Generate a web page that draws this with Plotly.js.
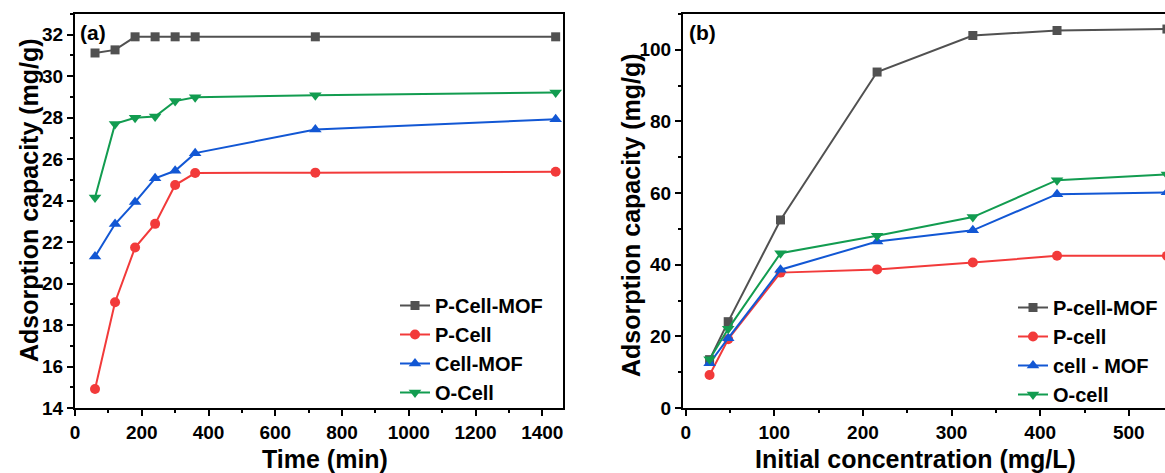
<!DOCTYPE html>
<html>
<head>
<meta charset="utf-8">
<script src="https://cdn.plot.ly/plotly-3.0.1.min.js"></script>
<style>
html, body { margin: 0; padding: 0; overflow: hidden; background: #fff; }
#chart { width: 1185px; height: 473px; }
</style>
</head>
<body>
<div id="chart"></div>
<script>
// Panel (a): adsorption kinetics
const timeMin = [60, 120, 180, 240, 300, 360, 720, 1440];
const aPCellMOF = [31.12, 31.27, 31.9, 31.9, 31.9, 31.9, 31.9, 31.9];
const aPCell = [14.92, 19.1, 21.74, 22.88, 24.75, 25.33, 25.35, 25.39];
const aCellMOF = [21.3, 22.87, 23.93, 25.08, 25.44, 26.29, 27.43, 27.92];
const aOCell = [24.15, 27.7, 28.0, 28.06, 28.8, 28.99, 29.08, 29.22];
const namesA = ['P-Cell-MOF', 'P-Cell', 'Cell-MOF', 'O-Cell'];

// Panel (b): effect of initial concentration
const concMgL = [27, 48, 107, 216, 324, 419, 543];
const bPCellMOF = [13.5, 24.1, 52.5, 93.8, 104.0, 105.4, 105.8];
const bPCell = [9.2, 19.2, 37.8, 38.7, 40.6, 42.5, 42.5];
const bCellMOF = [12.5, 19.5, 38.6, 46.5, 49.6, 59.7, 60.2];
const bOCell = [13.6, 22.1, 43.2, 48.1, 53.3, 63.6, 65.2];
const namesB = ['P-cell-MOF', 'P-cell', 'cell - MOF', 'O-cell'];

const colors = ['#515151', '#F23A3A', '#1257D4', '#129C50'];
const symbols = ['square', 'circle', 'triangle-up', 'triangle-down'];
const msizes = [9, 10, 11, 11];

const W = 1185, H = 473;
const px = v => v / W;

const seriesA = [aPCellMOF, aPCell, aCellMOF, aOCell];
const seriesB = [bPCellMOF, bPCell, bCellMOF, bOCell];

const traces = [];
seriesA.forEach((ys, i) => {
  traces.push({
    x: timeMin, y: ys, name: namesA[i], type: 'scatter', mode: 'lines+markers',
    xaxis: 'x', yaxis: 'y', legend: 'legend',
    line: {color: colors[i], width: 2},
    marker: {color: colors[i], symbol: symbols[i], size: msizes[i]}
  });
});
seriesB.forEach((ys, i) => {
  traces.push({
    x: concMgL, y: ys, name: namesB[i], type: 'scatter', mode: 'lines+markers',
    xaxis: 'x2', yaxis: 'y2', legend: 'legend2',
    line: {color: colors[i], width: 2},
    marker: {color: colors[i], symbol: symbols[i], size: msizes[i]}
  });
});

const FAM = 'Liberation Sans, Arial, sans-serif';
const tickFont = {family: FAM, size: 19, color: '#000', weight: 'bold'};
const axisBase = {
  showline: true, linewidth: 2, linecolor: '#000', mirror: true,
  showgrid: false, zeroline: false,
  ticks: 'outside', ticklen: 6, tickwidth: 2, tickcolor: '#000',
  tickfont: tickFont,
  minor: {ticks: 'outside', ticklen: 3, tickwidth: 2, tickcolor: '#000'}
};
const legFont = {family: FAM, size: 20, color: '#000', weight: 'bold'};
const titleFont = {family: FAM, size: 25, color: '#000', weight: 'bold'};

const layout = {
  width: W, height: H,
  margin: {l: 0, r: 0, t: 14, b: 65},
  paper_bgcolor: '#fff', plot_bgcolor: '#fff',
  xaxis: Object.assign({}, axisBase, {domain: [px(75), px(563)], range: [0, 1462], dtick: 200, tick0: 0, minor: Object.assign({}, axisBase.minor, {dtick: 100})}),
  yaxis: Object.assign({}, axisBase, {domain: [0, 1], range: [14, 33], dtick: 2, tick0: 0, minor: Object.assign({}, axisBase.minor, {dtick: 1})}),
  xaxis2: Object.assign({}, axisBase, {anchor: 'y2', domain: [px(683), px(1182)], range: [-3, 560], dtick: 100, tick0: 0, minor: Object.assign({}, axisBase.minor, {dtick: 50})}),
  yaxis2: Object.assign({}, axisBase, {anchor: 'x2', domain: [0, 1], range: [0, 110], dtick: 20, tick0: 0, minor: Object.assign({}, axisBase.minor, {dtick: 10})}),
  legend: {x: px(395), y: 1 - (286 - 14) / 394, xanchor: 'left', yanchor: 'top', font: legFont, bgcolor: 'rgba(0,0,0,0)', tracegroupgap: 0},
  legend2: {x: px(1013), y: 1 - (288 - 14) / 394, xanchor: 'left', yanchor: 'top', font: legFont, bgcolor: 'rgba(0,0,0,0)', tracegroupgap: 0},
  annotations: [
    {text: '(a)', xref: 'paper', yref: 'paper', x: px(78), y: 1 - (33 - 14) / 394, xanchor: 'left', yanchor: 'middle', showarrow: false, font: {family: FAM, size: 21, color: '#000', weight: 'bold'}},
    {text: '(b)', xref: 'paper', yref: 'paper', x: px(687), y: 1 - (33 - 14) / 394, xanchor: 'left', yanchor: 'middle', showarrow: false, font: {family: FAM, size: 21, color: '#000', weight: 'bold'}},
    {text: 'Time (min)', xref: 'paper', yref: 'paper', x: px(325), y: -(459 - 408) / 394, xanchor: 'center', yanchor: 'middle', showarrow: false, font: titleFont},
    {text: 'Initial concentration (mg/L)', xref: 'paper', yref: 'paper', x: px(915), y: -(459 - 408) / 394, xanchor: 'center', yanchor: 'middle', showarrow: false, font: titleFont},
    {text: 'Adsorption capacity (mg/g)', xref: 'paper', yref: 'paper', x: px(29), y: 1 - (200 - 14) / 394, xanchor: 'center', yanchor: 'middle', textangle: -90, showarrow: false, font: titleFont},
    {text: 'Adsorption capacity (mg/g)', xref: 'paper', yref: 'paper', x: px(631), y: 1 - (215 - 14) / 394, xanchor: 'center', yanchor: 'middle', textangle: -90, showarrow: false, font: titleFont}
  ]
};

Plotly.newPlot('chart', traces, layout, {displayModeBar: false, staticPlot: true});
</script>
</body>
</html>
